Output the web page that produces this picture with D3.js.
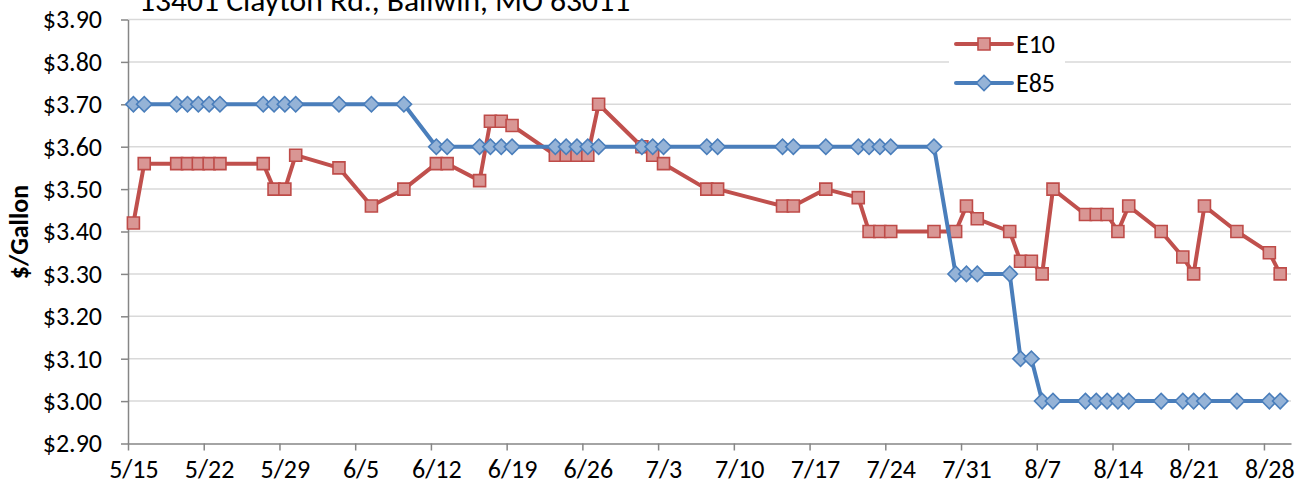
<!DOCTYPE html>
<html>
<head>
<meta charset="UTF-8">
<title>E10 / E85 prices</title>
<script src="https://cdn.jsdelivr.net/npm/d3@7"></script>
<style>
  body { margin: 0; background: #fff; }
  text { font-family: Carlito, Calibri, Lato, sans-serif; fill: #000; }
</style>
</head>
<body>
<div id="chart"></div>
<script>
// observation dates (2012), shared by both series
var dates = ["5/15","5/16","5/19","5/20","5/21","5/22","5/23","5/27","5/28","5/29","5/30",
  "6/3","6/6","6/9","6/12","6/13","6/16","6/17","6/18","6/19","6/23","6/24","6/25","6/26","6/27",
  "7/1","7/2","7/3","7/7","7/8","7/14","7/15","7/18","7/21","7/22","7/23","7/24","7/28","7/30","7/31",
  "8/1","8/4","8/5","8/6","8/7","8/8","8/11","8/12","8/13","8/14","8/15","8/18","8/20","8/21","8/22",
  "8/25","8/28","8/29"];

var e10 = [3.42,3.56,3.56,3.56,3.56,3.56,3.56,3.56,3.50,3.50,3.58,
  3.55,3.46,3.50,3.56,3.56,3.52,3.66,3.66,3.65,3.58,3.58,3.58,3.58,3.70,
  3.60,3.58,3.56,3.50,3.50,3.46,3.46,3.50,3.48,3.40,3.40,3.40,3.40,3.40,3.46,
  3.43,3.40,3.33,3.33,3.30,3.50,3.44,3.44,3.44,3.40,3.46,3.40,3.34,3.30,3.46,
  3.40,3.35,3.30];

var e85 = [3.70,3.70,3.70,3.70,3.70,3.70,3.70,3.70,3.70,3.70,3.70,
  3.70,3.70,3.70,3.60,3.60,3.60,3.60,3.60,3.60,3.60,3.60,3.60,3.60,3.60,
  3.60,3.60,3.60,3.60,3.60,3.60,3.60,3.60,3.60,3.60,3.60,3.60,3.60,3.30,3.30,
  3.30,3.30,3.10,3.10,3.00,3.00,3.00,3.00,3.00,3.00,3.00,3.00,3.00,3.00,3.00,
  3.00,3.00,3.00];

var xTicks = ["5/15","5/22","5/29","6/5","6/12","6/19","6/26","7/3","7/10","7/17","7/24","7/31",
  "8/7","8/14","8/21","8/28"];
var yTicks = [2.9,3.0,3.1,3.2,3.3,3.4,3.5,3.6,3.7,3.8,3.9];

var titleText = "13401 Clayton Rd., Ballwin, MO 63011";
var yLabel = "$/Gallon";
var seriesNames = ["E10", "E85"];

var W = 1304, H = 493, DAY = 864e5, FS = 26;
function toDate(s) {
  var p = s.split("/");
  return new Date(Date.UTC(2012, +p[0] - 1, +p[1]));
}

var svg = d3.select("#chart").append("svg").attr("width", W).attr("height", H);

var x = d3.scaleUtc()
  .domain([new Date(toDate("5/15") - DAY / 2), toDate("8/30")])
  .range([128, 1291]);
var y = d3.scaleLinear().domain([2.9, 3.9]).range([443.5, 19.5]);
var halfDay = (x(toDate("5/16")) - x(toDate("5/15"))) / 2;

// gridlines
svg.append("g").selectAll("line").data(yTicks.slice(1)).join("line")
  .attr("x1", x.range()[0]).attr("x2", x.range()[1])
  .attr("y1", function (d) { return y(d); }).attr("y2", function (d) { return y(d); })
  .style("stroke", "#d9d9d9").style("stroke-width", 1.5);

// title (cut off at the top, as in the source picture); sized to span ~492px
var title = svg.append("text").attr("x", 139).attr("y", 11)
  .style("font-size", "100px").text(titleText);
var tw = title.node().getComputedTextLength();
title.style("font-size", (100 * 492 / tw).toFixed(1) + "px");

// y axis
var yAxis = svg.append("g").attr("transform", "translate(128,0)")
  .call(d3.axisLeft(y).tickValues(yTicks).tickSize(7).tickSizeOuter(0).tickPadding(19)
    .tickFormat(function (d) { return "$" + d.toFixed(2); }));
yAxis.selectAll("text").style("font-size", FS + "px");

// x axis, ticks sit between days, labels on the day
var xAxis = svg.append("g").attr("transform", "translate(0,443.5)")
  .call(d3.axisBottom(x).tickValues(xTicks.map(toDate)).tickSize(7).tickSizeOuter(0).tickPadding(9)
    .tickFormat(function (d) { return (d.getUTCMonth() + 1) + "/" + d.getUTCDate(); }));
xAxis.selectAll(".tick line").attr("transform", "translate(" + (-halfDay) + ",0)");
xAxis.selectAll("text").style("font-size", FS + "px");

svg.selectAll(".domain, .tick line").style("stroke", "#868686").style("stroke-width", 1.5);

svg.append("text").attr("transform", "translate(28,232) rotate(-90)")
  .attr("text-anchor", "middle").style("font-size", FS + "px").style("font-weight", "bold")
  .text(yLabel);

// series
var series = [
  { name: seriesNames[0], values: e10, line: "#c0504d", fill: "#d99694", edge: "#be4b48",
    sym: d3.symbol(d3.symbolSquare, 144), rot: 0 },
  { name: seriesNames[1], values: e85, line: "#4a7ebb", fill: "#95b3d7", edge: "#4a7ebb",
    sym: d3.symbol(d3.symbolSquare, 118), rot: 45 }
];

var line = d3.line()
  .x(function (d) { return x(d.date); })
  .y(function (d) { return y(d.v); });

series.forEach(function (s) {
  var pts = dates.map(function (dt, i) { return { date: toDate(dt), v: s.values[i] }; });
  var g = svg.append("g");
  g.append("path").datum(pts).attr("d", line)
    .style("fill", "none").style("stroke", s.line).style("stroke-width", 4)
    .style("stroke-linejoin", "round").style("stroke-linecap", "round");
  g.selectAll("path.m").data(pts).join("path").attr("class", "m")
    .attr("d", s.sym)
    .attr("transform", function (d) { return "translate(" + x(d.date) + "," + y(d.v) + ") rotate(" + s.rot + ")"; })
    .style("fill", s.fill).style("stroke", s.edge).style("stroke-width", 1.6);
});

// legend
var leg = svg.append("g");
leg.append("rect").attr("x", 949).attr("y", 25).attr("width", 116).attr("height", 76).style("fill", "#fff");
series.forEach(function (s, i) {
  var ly = 44 + i * 39;
  leg.append("line").attr("x1", 956).attr("x2", 1012).attr("y1", ly).attr("y2", ly)
    .style("stroke", s.line).style("stroke-width", 4).style("stroke-linecap", "round");
  leg.append("path").attr("d", s.sym)
    .attr("transform", "translate(984," + ly + ") rotate(" + s.rot + ")")
    .style("fill", s.fill).style("stroke", s.edge).style("stroke-width", 1.6);
  leg.append("text").attr("x", 1016).attr("y", ly + 8.5).style("font-size", FS + "px").text(s.name);
});
</script>
</body>
</html>
